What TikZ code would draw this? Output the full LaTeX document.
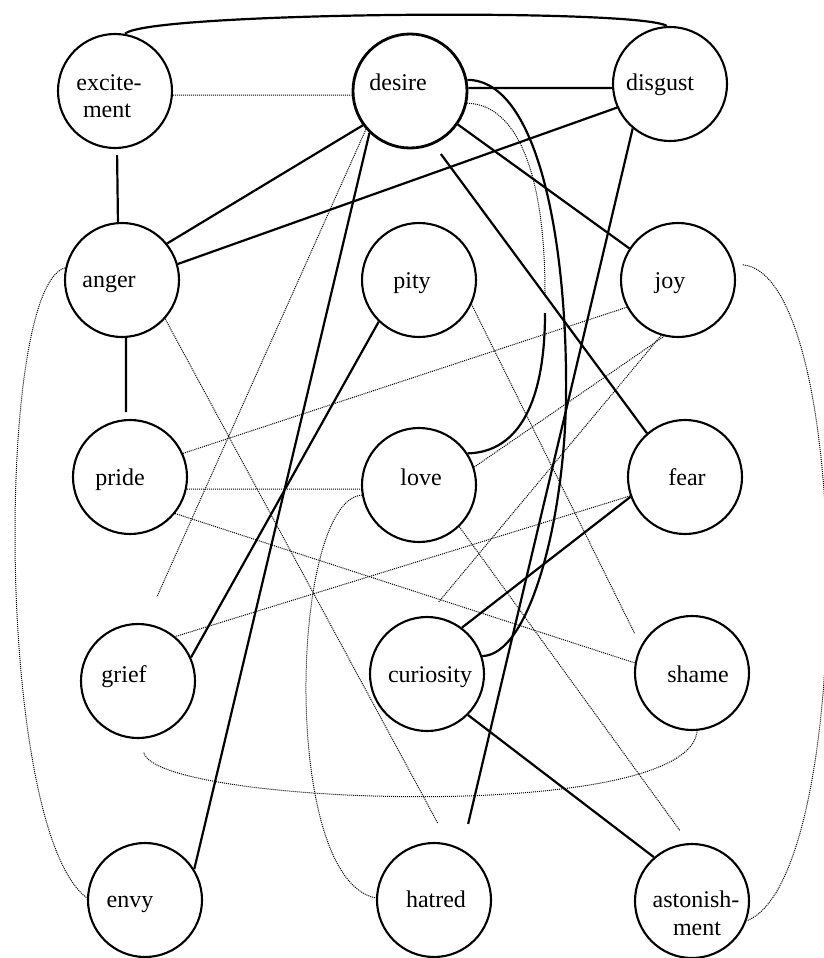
\documentclass[tikz,border=0pt]{standalone}
\usepackage{fontspec}
\setmainfont{Liberation Serif}
\begin{document}
\begin{tikzpicture}[x=1pt,y=-1pt,
  emo/.style={circle,draw,line width=2.1pt,minimum size=114pt,inner sep=0pt},
  lbl/.style={anchor=base,inner sep=0pt,font=\fontsize{24}{27}\selectfont},
  solidedge/.style={line width=2.2pt},
  dotedge/.style={line width=1pt,dash pattern=on 1pt off 1pt}]
\useasboundingbox (0,0) rectangle (824,958);
% circles
\node[emo] (E) at (115,91) {};
\node[emo,line width=2.8pt] (D) at (410,91) {};
\node[emo] (G) at (670,84) {};
\node[emo] (A) at (122,280) {};
\node[emo] (P) at (419,280) {};
\node[emo] (J) at (678,280) {};
\node[emo] (R) at (130,477) {};
\node[emo] (L) at (419,485) {};
\node[emo] (F) at (685,477) {};
\node[emo] (Gr) at (138,681) {};
\node[emo] (C) at (427,674) {};
\node[emo] (S) at (692,673) {};
\node[emo] (V) at (145,900) {};
\node[emo] (H) at (434,900) {};
\node[emo] (T) at (692,901) {};
% labels
\node[lbl] (Et1) at (109,90) {excite-};
\node[lbl] (Et2) at (107,117) {ment};
\node[lbl] (Dt) at (398,90) {desire};
\node[lbl] (Gt) at (660,90) {disgust};
\node[lbl] (At) at (109,287) {anger};
\node[lbl] (Pt) at (412,288) {pity};
\node[lbl] (Jt) at (670,288) {joy};
\node[lbl] (Rt) at (120,485) {pride};
\node[lbl] (Lt) at (421,485) {love};
\node[lbl] (Ft) at (687,485) {fear};
\node[lbl] (Grt) at (124,682) {grief};
\node[lbl] (Ct) at (430,682) {curiosity};
\node[lbl] (St) at (698,682) {shame};
\node[lbl] (Vt) at (130,907) {envy};
\node[lbl] (Ht) at (436,907) {hatred};
\node[lbl] (Tt1) at (696,907) {astonish-};
\node[lbl] (Tt2) at (697,935) {ment};
% solid connectors
\draw[solidedge] (E.80) .. controls (145,12) and (640,8) .. (G.93);
\draw[solidedge,shorten <=6pt] (E.272) -- (A.94);
\draw[solidedge] (D.216) -- (A.39);
\draw[solidedge] (G.204) -- (A.16);
\draw[solidedge] (D.3) -- (G.184);
\draw[solidedge] (D.325) -- (J.147);
\draw[solidedge,shorten <=12pt] (D.294) -- (F.131);
\draw[solidedge] (D.226) -- (V.32);
\draw[solidedge] (P.226) -- (Gr.24);
\draw[solidedge,shorten >=26pt] (G.230) -- (H.61);
\draw[solidedge] (F.200) -- (C.53);
\draw[solidedge] (C.315) -- (T.131);
\draw[solidedge,shorten >=7pt] (A.274) -- (R.94);
\coordinate (dl1) at (545,293);
\coordinate (dl2) at (545,313);
\draw[dotedge] (D.348) .. controls (520,105) and (545,180) .. (dl1);
\draw[solidedge] (dl2) .. controls (545,400) and (520,452) .. (L.33);
\draw[solidedge] (D.11) .. controls (540,80) and (568,250) .. (566,400)
  .. controls (564,520) and (530,655) .. (C.18);
% dotted connectors
\draw[dotedge] (E.356) -- (D.184);
\draw[dotedge,shorten >=29pt] (D.221) -- (Gr.83);
\draw[dotedge,shorten >=23pt] (A.318) -- (H.75);
\draw[dotedge] (A.168) .. controls (-5,285) and (-5,830) .. (V.178);
\draw[dotedge,shorten <=9pt] (J.16) .. controls (855,275) and (855,880) .. (T.340);
\draw[dotedge] (R.24) -- (J.208);
\draw[dotedge] (R.348) -- (L.184);
\draw[dotedge] (R.321) -- (S.170);
\draw[dotedge] (L.18) -- (J.256);
\draw[dotedge,shorten >=18pt] (J.253) -- (C.90);
\draw[dotedge] (F.199) -- (Gr.50);
\draw[dotedge,shorten >=15pt] (L.314) -- (T.93);
\draw[dotedge,shorten >=14pt] (P.335) -- (S.152);
\draw[dotedge] (L.190) .. controls (290,500) and (280,880) .. (H.178);
\draw[dotedge,shorten <=14pt] (Gr.273) .. controls (155,805) and (690,825) .. (S.275);
\end{tikzpicture}
\end{document}
